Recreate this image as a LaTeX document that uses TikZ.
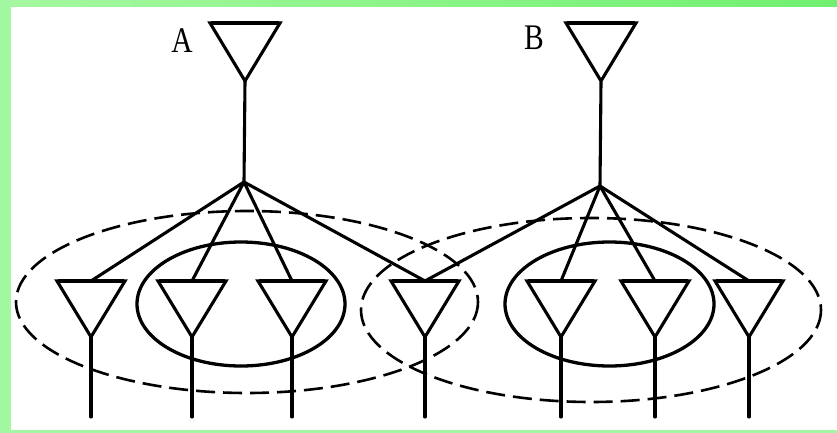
\documentclass[tikz,border=0pt]{standalone}
\usepackage{fontspec}
\setmainfont{Liberation Serif}
\definecolor{gA}{HTML}{A6F8A0}
\definecolor{gB}{HTML}{70F070}
\definecolor{gL}{HTML}{A2F8A0}
\begin{document}
\begin{tikzpicture}[x=1pt,y=-1pt,
  wire/.style={line width=3.1pt,line cap=round,line join=round},
  antline/.style={line width=3.1pt,line join=miter},
  topline/.style={line width=4.2pt},
  group/.style={line width=3.3pt},
  cell/.style={line width=2.6pt,dash pattern=on 19pt off 8pt},
  lbl/.style={font=\fontsize{36}{36}\selectfont,inner sep=0pt,xscale=0.82},
  antpic/.pic={\draw[antline] (-34,0) -- (34,0) -- (0,56) -- cycle;
               \draw[topline] (-33,0) -- (33,0);},
  bigantpic/.pic={\draw[antline] (-35,0) -- (35,0) -- (0,58) -- cycle;
                  \draw[topline] (-34,0) -- (34,0);}]
\useasboundingbox (0,0) rectangle (837,433);
\fill[white] (0,0) rectangle (837,433);
\shade[left color=gA, right color=gB] (0,0) rectangle (837,7);
\fill[gL] (0,0) rectangle (11,433);
\fill[gL] (0,430) rectangle (837,433);
% groups
\draw[cell] (247,302) ellipse [x radius=231, y radius=91];
\draw[cell] (591,310) ellipse [x radius=230, y radius=92];
\draw[group] (241,304) ellipse [x radius=104, y radius=62];
\draw[group] (609.5,304) ellipse [x radius=104.5, y radius=62];
% bottom antennas
\foreach \n/\x in {1/91,2/192,3/292,4/425,5/561,6/655,7/749} {
  \coordinate (f\n) at (\x,281);
  \coordinate (a\n) at (\x,337);
  \coordinate (e\n) at (\x,417);
  \pic at (f\n) {antpic};
  \draw[wire] (a\n) -- (e\n);
}
% top antennas
\coordinate (fA) at (245,23);
\coordinate (aA) at (245,81);
\coordinate (hA) at (244,182);
\coordinate (fB) at (601,23);
\coordinate (aB) at (601,82);
\coordinate (hB) at (600,186);
\pic at (fA) {bigantpic};
\pic at (fB) {bigantpic};
\draw[wire] (aA) -- (hA);
\draw[wire] (aB) -- (hB);
\foreach \n in {1,2,3,4} \draw[wire] (hA) -- (f\n);
\foreach \n in {4,5,6,7} \draw[wire] (hB) -- (f\n);
% labels
\node[lbl] (labA) at (182,41) {A};
\node[lbl] (labB) at (534,38) {B};
\end{tikzpicture}
\end{document}
